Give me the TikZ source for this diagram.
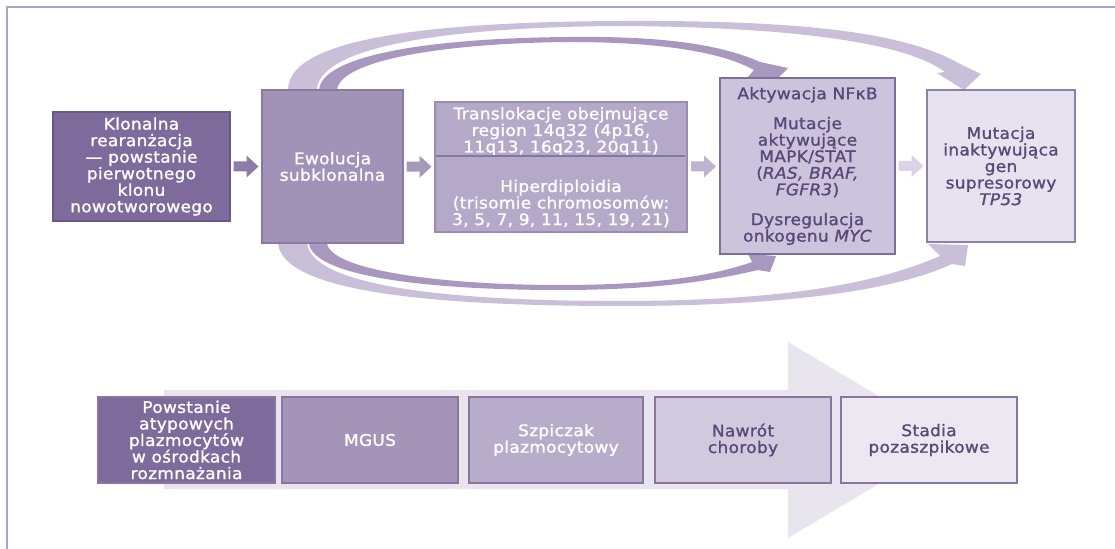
\documentclass[tikz,border=0pt]{standalone}
\usepackage{fontspec}
\setmainfont{DejaVu Sans}[FakeStretch=1.06,LetterSpace=2,FakeBold=1.2]
\usetikzlibrary{calc}
\definecolor{framec}{HTML}{ADA3C3}
\definecolor{c1}{HTML}{7E6B9B}\definecolor{c1d}{HTML}{6A5888}
\definecolor{c2}{HTML}{A193B7}\definecolor{c2d}{HTML}{8A7AA3}
\definecolor{c3}{HTML}{B5A9C9}\definecolor{c3d}{HTML}{9A8DB2}
\definecolor{c4}{HTML}{CCC3DC}\definecolor{c4d}{HTML}{7E6E99}
\definecolor{c5}{HTML}{E7E2EF}\definecolor{c5d}{HTML}{8E80A8}
\definecolor{divc}{HTML}{8677A0}
\definecolor{dtext}{HTML}{5A4877}
\definecolor{arclight}{HTML}{C9BFD9}
\definecolor{arcdark}{HTML}{A898BF}
\definecolor{a1c}{HTML}{8E7CA8}\definecolor{a2c}{HTML}{A698BB}
\definecolor{a3c}{HTML}{BEB3D0}\definecolor{a4c}{HTML}{DAD3E5}
\definecolor{sA}{HTML}{7E6B9B}\definecolor{sB}{HTML}{A394B8}
\definecolor{sC}{HTML}{B8ACCB}\definecolor{sD}{HTML}{D1C9DE}
\definecolor{sE}{HTML}{ECE8F2}\definecolor{sbord}{HTML}{8676A0}
\definecolor{bigc}{HTML}{E8E5EF}
\begin{document}
\begin{tikzpicture}[x=0.75pt,y=-0.75pt]
\tikzset{
  txt/.style={font=\fontsize{12}{12.4}\selectfont, align=center, inner sep=0pt},
  bx/.style 2 args={draw, line width=0.8pt, inner sep=0pt, txt,
     minimum width=#1*0.75pt, minimum height=#2*0.75pt},
}
\useasboundingbox (0,0) rectangle (1115,549);
\fill[white] (0,0) rectangle (1115,549);
% frame
\draw[framec, line width=1.2pt] (7,549) -- (7,7) -- (1115,7);

% arcs (tapered bands)
\fill[arcdark] (319,90) .. controls (322,55) and (430,38) .. (570,37)
   .. controls (660,36) and (720,44) .. (760,62)
   -- (788,68) -- (777,79) -- (747,78) -- (754,70)
   .. controls (720,51) and (655,42) .. (570,42)
   .. controls (445,43) and (340,60) .. (337,90) -- cycle;
\fill[arclight] (288,90) .. controls (288,40) and (420,22) .. (620,21)
   .. controls (800,20) and (905,32) .. (960,64)
   -- (981,74) -- (964,90) -- (937,73) -- (945,72)
   .. controls (905,42) and (790,27) .. (620,26)
   .. controls (430,27) and (318,50) .. (317,90) -- cycle;
\fill[arcdark] (309,243) .. controls (312,275) and (420,290) .. (560,290)
   .. controls (660,290) and (715,280) .. (758,270)
   -- (770,272) -- (776,256) -- (748,254) -- (752,262)
   .. controls (712,276) and (655,285) .. (560,285)
   .. controls (440,285) and (330,270) .. (327,243) -- cycle;
\fill[arclight] (278,243) .. controls (282,290) and (420,306) .. (620,306)
   .. controls (800,306) and (900,288) .. (952,264)
   -- (965,266) -- (968,245) -- (928,244) -- (940,256)
   .. controls (880,282) and (790,301) .. (620,301)
   .. controls (440,301) and (312,285) .. (307,243) -- cycle;

% top boxes
\node[bx={177}{109}, fill=c1, draw=c1d, text=white] (b1) at (141.5,166.5)
  {Klonalna\\rearanżacja\\— powstanie\\pierwotnego\\klonu\\nowotworowego};
\node[bx={141}{153}, fill=c2, draw=c2d, text=white] (b2) at (332.5,166.5)
  {Ewolucja\\subklonalna};
\node[bx={252}{130}, fill=c3, draw=c3d] (b3) at (561,167) {};
\node[txt, text=white] (b3t) at (561,131.5)
  {Translokacje obejmujące\\region 14q32 (4p16,\\11q13, 16q23, 20q11)};
\node[txt, text=white] (b3b) at (561,203.5)
  {Hiperdiploidia\\(trisomie chromosomów:\\3, 5, 7, 9, 11, 15, 19, 21)};
\draw[divc, line width=0.8pt] ($(b3.west)+(2,-11)$) coordinate (d1) -- ($(b3.east)+(-3,-11)$) coordinate (d2);
\node[bx={175}{176}, fill=c4, draw=c4d, text=dtext] (b4) at (807.5,166)
  {Aktywacja NFκB\\[10pt]Mutacje\\aktywujące\\MAPK/STAT\\(\textit{RAS, BRAF,}\\\textit{FGFR3})\\[10pt]Dysregulacja\\onkogenu \textit{MYC}};
\node[bx={148}{152}, fill=c5, draw=c5d, text=dtext] (b5) at (1001,166)
  {Mutacja\\inaktywująca\\gen\\supresorowy\\\textit{TP53}};

% small block arrows
\path (b1.east) -- (b2.west) coordinate[midway] (m1);
\path (b2.east) -- (b3.west) coordinate[midway] (m2);
\path (b3.east) -- (b4.west) coordinate[midway] (m3);
\path (b4.east) -- (b5.west) coordinate[midway] (m4);
\foreach \m/\c in {m1/a1c,m2/a2c,m3/a3c,m4/a4c}{
  \fill[\c] (\m) ++(-12.5,-5) -- ++(13,0) -- ++(0,-6) -- ++(12,11) -- ++(-12,11) -- ++(0,-6) -- ++(-13,0) -- cycle;
}

% big arrow
\fill[bigc] (164,390) -- (788,390) -- (788,342) -- (952,440) -- (788,538) -- (788,489) -- (164,489) -- cycle;

% bottom row
\node[bx={177}{86}, fill=sA, draw=sbord, text=white] (s1) at (186.5,440)
  {Powstanie\\atypowych\\plazmocytów\\w ośrodkach\\rozmnażania};
\node[bx={176}{86}, fill=sB, draw=sbord, text=white] (s2) at (370,440) {MGUS};
\node[bx={174}{86}, fill=sC, draw=sbord, text=white] (s3) at (556,440) {Szpiczak\\plazmocytowy};
\node[bx={176}{86}, fill=sD, draw=sbord, text=dtext] (s4) at (743,440) {Nawrót\\choroby};
\node[bx={176}{86}, fill=sE, draw=sbord, text=dtext] (s5) at (929,440) {Stadia\\pozaszpikowe};
\end{tikzpicture}
\end{document}
